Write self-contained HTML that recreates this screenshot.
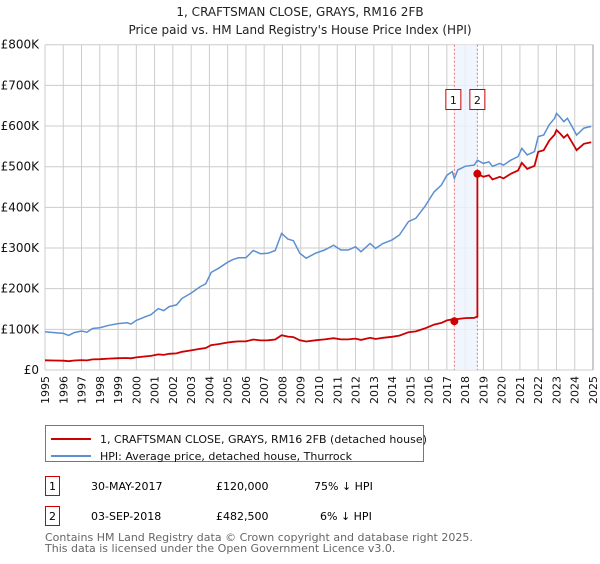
<!DOCTYPE html>
<html><head><meta charset="utf-8"><style>
body{margin:0;background:#fff;width:600px;height:560px;overflow:hidden;font-family:"DejaVu Sans","Liberation Sans",sans-serif;}
svg text{font-family:"DejaVu Sans","Liberation Sans",sans-serif;}
</style></head><body>
<svg id="chart" width="600" height="560" xmlns="http://www.w3.org/2000/svg">
<text x="300" y="16" text-anchor="middle" font-size="12" fill="#222">1, CRAFTSMAN CLOSE, GRAYS, RM16 2FB</text>
<text x="300" y="34" text-anchor="middle" font-size="12" fill="#222">Price paid vs. HM Land Registry's House Price Index (HPI)</text>
<g id="grid"></g><g id="band"></g><g id="lines"></g><g id="axes"></g>
<g>
<rect x="45.5" y="425.5" width="378" height="36" fill="#fff" stroke="#777"/>
<line x1="51" y1="439" x2="91" y2="439" stroke="#cc0000" stroke-width="2"/>
<text x="100" y="443" font-size="11" fill="#111">1, CRAFTSMAN CLOSE, GRAYS, RM16 2FB (detached house)</text>
<line x1="51" y1="456" x2="91" y2="456" stroke="#5b8fd1" stroke-width="2"/>
<text x="100" y="460" font-size="11" fill="#111">HPI: Average price, detached house, Thurrock</text>
</g>
<g>
<rect x="45.5" y="476.5" width="14" height="19" fill="#fff" stroke="#cc0000"/>
<text x="52.5" y="490" text-anchor="middle" font-size="11">1</text>
<text x="91" y="490" font-size="11">30-MAY-2017</text>
<text x="216" y="490" font-size="11">£120,000</text>
<text x="314" y="490" font-size="11">75% ↓ HPI</text>
</g>
<g>
<rect x="45.5" y="506.5" width="14" height="19" fill="#fff" stroke="#cc0000"/>
<text x="52.5" y="520" text-anchor="middle" font-size="11">2</text>
<text x="91" y="520" font-size="11">03-SEP-2018</text>
<text x="216" y="520" font-size="11">£482,500</text>
<text x="320" y="520" font-size="11">6% ↓ HPI</text>
</g>
<text x="45" y="541" font-size="11" fill="#666">Contains HM Land Registry data © Crown copyright and database right 2025.</text>
<text x="45" y="552" font-size="11" fill="#666">This data is licensed under the Open Government Licence v3.0.</text>
</svg>
<script>
const hpiYears=[1995,1995.5,1996,1996.3,1996.6,1997,1997.3,1997.6,1998,1998.5,1999,1999.5,1999.7,2000,2000.5,2000.8,2001.2,2001.5,2001.8,2002.2,2002.5,2003,2003.5,2003.8,2004.1,2004.5,2005,2005.3,2005.6,2006,2006.4,2006.8,2007.2,2007.6,2007.95,2008.3,2008.6,2008.95,2009.3,2009.8,2010.3,2010.8,2011.2,2011.6,2012,2012.3,2012.8,2013.1,2013.5,2014,2014.4,2014.9,2015.3,2015.8,2016.3,2016.7,2017,2017.3,2017.41,2017.6,2018,2018.5,2018.67,2019,2019.3,2019.5,2019.9,2020.1,2020.5,2020.9,2021.1,2021.4,2021.8,2022,2022.3,2022.6,2022.9,2023,2023.2,2023.4,2023.6,2023.9,2024.1,2024.5,2024.9];
const hpiValues=[94,92,90,85,92,96,93,102,104,110,114,116,113,122,131,136,151,146,156,160,176,189,205,212,240,250,265,272,276,276,294,286,287,294,336,322,318,287,275,287,295,307,295,295,303,291,311,299,311,320,332,365,373,402,438,455,479,488,471,492,501,504,516,508,512,501,508,504,516,525,545,529,537,574,578,603,619,631,622,611,619,595,578,595,599];
const saleYears=[2017.41,2018.67];
const salePrices=[120,482.5];
const yTicks=[0,100,200,300,400,500,600,700,800];
const yTickLabels=["£0","£100K","£200K","£300K","£400K","£500K","£600K","£700K","£800K"];
const xTicks=[1995,1996,1997,1998,1999,2000,2001,2002,2003,2004,2005,2006,2007,2008,2009,2010,2011,2012,2013,2014,2015,2016,2017,2018,2019,2020,2021,2022,2023,2024,2025];

const L=45,R=593,T=44.7,B=370;
const xs=y=>L+(y-1995)/30*(R-L);
const ys=v=>B-v/800*(B-T);
const NS='http://www.w3.org/2000/svg';
function mk(p,tag,a){const e=document.createElementNS(NS,tag);for(const k in a)e.setAttribute(k,a[k]);p.appendChild(e);return e;}
const grid=document.getElementById('grid'),band=document.getElementById('band'),lines=document.getElementById('lines'),axes=document.getElementById('axes');
xTicks.forEach(t=>{const l=mk(grid,'line',{x1:xs(t),x2:xs(t),y1:T,y2:B,stroke:'#ccc','stroke-width':1});


const tx=mk(axes,'text',{transform:`translate(${xs(t)+4},${B+6}) rotate(-90)`,'text-anchor':'end','font-size':11,fill:'#111'});tx.textContent=t;

});
yTicks.forEach((t,i)=>{const l=mk(grid,'line',{x1:L,x2:R,y1:ys(t),y2:ys(t),stroke:'#ccc','stroke-width':1});


const tx=mk(axes,'text',{x:39,y:ys(t)+4,'text-anchor':'end','font-size':12,fill:'#111'});tx.textContent=yTickLabels[i];

});
const ra=mk(axes,'line',{x1:R,x2:R,y1:T,y2:B,stroke:'#999','stroke-width':1});


function hpiAt(y){for(let i=0;i<hpiYears.length-1;i++){if(y>=hpiYears[i]&&y<=hpiYears[i+1]){const f=(y-hpiYears[i])/(hpiYears[i+1]-hpiYears[i]);return hpiValues[i]+f*(hpiValues[i+1]-hpiValues[i]);}}return hpiValues[hpiValues.length-1];}
const bd=mk(band,'rect',{x:xs(saleYears[0]),y:T,width:xs(saleYears[1])-xs(saleYears[0]),height:B-T,fill:'#eef3fc',opacity:0.8});


saleYears.forEach((s,i)=>{const l=mk(band,'line',{x1:xs(s),x2:xs(s),y1:T,y2:B,stroke:'#f07070','stroke-dasharray':'2,2','stroke-width':1});


const bx=xs(s)-(i==0?14:7)+(i==0?-2:-1);
const r=mk(band,'rect',{x:xs(s)-7.5-(i==0?7:0)+ (i==0?6:0),y:89.5,width:15,height:20,fill:'#fff',stroke:'#cc0000'});


const t=mk(band,'text',{x:xs(s)-(i==0?1:0),y:104,'text-anchor':'middle','font-size':11,fill:'#111'});t.textContent=i+1;

});
// HPI
let d='';hpiYears.forEach((y,i)=>{d+=(i?'L':'M')+xs(y).toFixed(1)+','+ys(hpiValues[i]).toFixed(1);});
const hp=mk(lines,'path',{d,fill:'none',stroke:'#5b8fd1','stroke-width':1.5});


// property line indexed to HPI
const r1=salePrices[0]/hpiAt(saleYears[0]),r2=salePrices[1]/hpiAt(saleYears[1]);
let pts=[];
hpiYears.forEach((y,i)=>{if(y<saleYears[1])pts.push([y,hpiValues[i]*r1]);});
pts.push([saleYears[1],hpiAt(saleYears[1])*r1]);
pts.push([saleYears[1],salePrices[1]]);
hpiYears.forEach((y,i)=>{if(y>saleYears[1])pts.push([y,hpiValues[i]*r2]);});
let d2='';pts.forEach((p,i)=>{d2+=(i?'L':'M')+xs(p[0]).toFixed(1)+','+ys(p[1]).toFixed(1);});
const pp=mk(lines,'path',{d:d2,fill:'none',stroke:'#cc0000','stroke-width':1.8});


saleYears.forEach((s,i)=>{const c=mk(lines,'circle',{cx:xs(s),cy:ys(salePrices[i]),r:4,fill:'#cc0000'});

});
</script>
</body></html>
